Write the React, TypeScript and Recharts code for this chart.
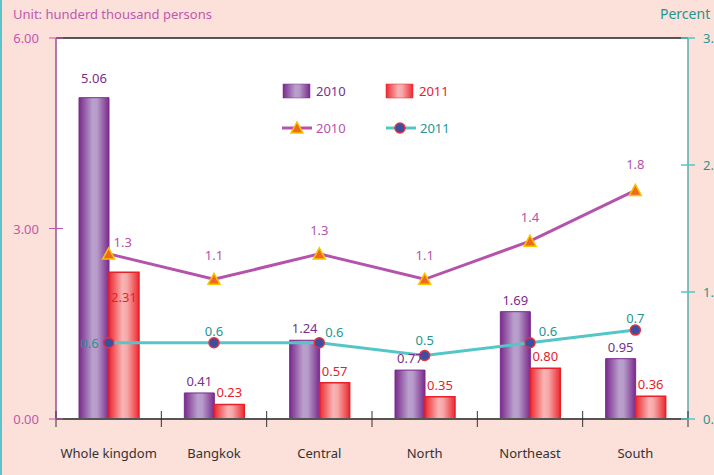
import React from 'react';
import { ComposedChart, Bar, Line, XAxis, YAxis, CartesianGrid, LabelList, ReferenceLine } from 'recharts';

const categories = ['Whole kingdom', 'Bangkok', 'Central', 'North', 'Northeast', 'South'];
const bars2010 = [5.06, 0.41, 1.24, 0.77, 1.69, 0.95];
const bars2011 = [2.31, 0.23, 0.57, 0.35, 0.8, 0.36];
const line2010 = [1.3, 1.1, 1.3, 1.1, 1.4, 1.8];
const line2011 = [0.6, 0.6, 0.6, 0.5, 0.6, 0.7];
const leftTicks = [0, 3, 6];
const rightTicks = [0, 1, 2, 3];
const seriesNames = ['2010', '2011'];
const unitText = 'Unit: hunderd thousand persons';
const rightUnitText = 'Percent';

const data = categories.map((c, i) => ({
  name: c,
  b2010: bars2010[i],
  b2011: bars2011[i],
  l2010: line2010[i],
  l2011: line2011[i],
}));

const FONT = "'Noto Sans', sans-serif";
const PURPLE = '#7B2D8E';
const RED = '#E8202A';
const LPURPLE = '#B552AC';
const TEAL = '#55C6C8';
const TEAL_TXT = '#24968F';
const PINK_TXT = '#C257AE';

// label placement styles (offsets in px)
const l2010Offsets = [[14, -12, 'middle'], [0, -24, 'middle'], [0, -24, 'middle'], [0, -24, 'middle'], [0, -24, 'middle'], [0, -26, 'middle']];
const l2011Offsets = [[-10, 0, 'end'], [0, -12, 'middle'], [15, -11, 'middle'], [0, -16, 'middle'], [18, -12, 'middle'], [0, -12, 'middle']];

const Triangle = (props: any) => {
  const { cx, cy } = props;
  if (cx == null || cy == null) return null;
  return <polygon points={`${cx},${cy - 6} ${cx - 6},${cy + 5} ${cx + 6},${cy + 5}`} fill="#F06A1E" stroke="#F7C400" strokeWidth={1.5} />;
};
const Circle = (props: any) => {
  const { cx, cy } = props;
  if (cx == null || cy == null) return null;
  return <circle cx={cx} cy={cy} r={5} fill="#3A4FA0" stroke="#E5303F" strokeWidth={1.5} />;
};

const barLabel = (color: string, insideFirst: boolean) => (p: any) => {
  const { x, y, width, value, index } = p;
  let ty = y - 7;
  if (index === 0) ty = insideFirst ? y + 30 : y - 15;
  return (
    <text x={x + width / 2} y={ty} textAnchor="middle" fill={color} fontSize={13} fontFamily={FONT}>
      {Number(value).toFixed(2)}
    </text>
  );
};

const lineLabel = (color: string, offsets: any[]) => (p: any) => {
  const { x, y, value, index } = p;
  const o = offsets[index] || [0, -12, 'middle'];
  return (
    <text x={x + o[0]} y={y + o[1] + 5} textAnchor={o[2]} fill={color} fontSize={13} fontFamily={FONT}>
      {value}
    </text>
  );
};

const XTick = (props: any) => {
  const { x, y, payload, index } = props;
  const half = payload && payload.offset ? payload.offset : 52.6;
  const axisY = y - 8;
  return (
    <g>
      <line x1={x - half} x2={x - half} y1={axisY - 8} y2={axisY + 8} stroke="#333" strokeWidth={1} />
      {index === categories.length - 1 && (
        <line x1={x + half} x2={x + half} y1={axisY - 8} y2={axisY + 8} stroke="#333" strokeWidth={1} />
      )}
      <text x={x} y={axisY + 39} textAnchor="middle" fill="#333" fontSize={13} fontFamily={FONT}>
        {payload.value}
      </text>
    </g>
  );
};

const LeftTick = (props: any) => {
  const { x, y, payload } = props;
  const ax = x + 8;
  return (
    <g>
      <line x1={ax - 7} x2={ax + 7} y1={y} y2={y} stroke={PINK_TXT} strokeWidth={1} />
      <text x={ax - 17} y={y + 5} textAnchor="end" fill={PINK_TXT} fontSize={13} fontFamily={FONT}>
        {Number(payload.value).toFixed(2)}
      </text>
    </g>
  );
};

const RightTick = (props: any) => {
  const { x, y, payload } = props;
  const ax = x - 8;
  return (
    <g>
      <line x1={ax - 7} x2={ax + 7} y1={y} y2={y} stroke={TEAL} strokeWidth={1.5} />
      <text x={ax + 15} y={y + 5} textAnchor="start" fill={TEAL_TXT} fontSize={13} fontFamily={FONT}>
        {Number(payload.value).toFixed(2)}
      </text>
    </g>
  );
};

const LegendBox = () => (
  <svg width={190} height={70} style={{ position: 'absolute', left: 280, top: 78, overflow: 'visible' }}>
    <rect x={3} y={6} width={27} height={14} fill="url(#gPurple)" stroke={PURPLE} strokeWidth={0.5} />
    <text x={36} y={18} fill={PURPLE} fontSize={13} fontFamily={FONT}>{seriesNames[0]}</text>
    <rect x={106} y={6} width={27} height={14} fill="url(#gRed)" stroke={RED} strokeWidth={0.5} />
    <text x={139} y={18} fill={RED} fontSize={13} fontFamily={FONT}>{seriesNames[1]}</text>
    <line x1={2} x2={32} y1={50} y2={50} stroke={LPURPLE} strokeWidth={3} />
    <polygon points="17,44 11,55 23,55" fill="#F06A1E" stroke="#F7C400" strokeWidth={1.5} />
    <text x={36} y={55} fill={LPURPLE} fontSize={13} fontFamily={FONT}>{seriesNames[0]}</text>
    <line x1={106} x2={136} y1={50} y2={50} stroke={TEAL} strokeWidth={3} />
    <circle cx={120} cy={50} r={5} fill="#3A4FA0" stroke="#E5303F" strokeWidth={1.5} />
    <text x={140} y={55} fill={TEAL_TXT} fontSize={13} fontFamily={FONT}>{seriesNames[1]}</text>
  </svg>
);

export default function App() {
  return (
    <div style={{ position: 'fixed', left: 0, top: 0, width: 714, height: 475, background: '#FCE0DA', overflow: 'hidden', fontFamily: FONT }}>
      <div style={{ position: 'absolute', left: 0, top: 0, width: 2, height: 475, background: '#5BC3C9' }} />
      <div style={{ position: 'absolute', left: 13, top: 5, fontSize: 13, color: PINK_TXT, fontFamily: FONT }}>{unitText}</div>
      <div style={{ position: 'absolute', left: 660, top: 4, fontSize: 14, color: TEAL_TXT, fontFamily: FONT, whiteSpace: 'nowrap' }}>{rightUnitText}</div>
      <div style={{ position: 'absolute', left: 0, top: 0 }}>
        <ComposedChart
          width={714}
          height={475}
          data={data}
          margin={{ top: 38, right: 0, bottom: 0, left: 0 }}
          barGap={0}
        >
          <defs>
            <linearGradient id="gPurple" x1="0" y1="0" x2="1" y2="0">
              <stop offset="0%" stopColor="#7A2A8C" />
              <stop offset="45%" stopColor="#B9A0CC" />
              <stop offset="60%" stopColor="#B79CCA" />
              <stop offset="100%" stopColor="#7A2A8C" />
            </linearGradient>
            <linearGradient id="gRed" x1="0" y1="0" x2="1" y2="0">
              <stop offset="0%" stopColor="#EC2A30" />
              <stop offset="45%" stopColor="#F8B4B4" />
              <stop offset="60%" stopColor="#F7A8A8" />
              <stop offset="100%" stopColor="#EC2A30" />
            </linearGradient>
          </defs>
          <CartesianGrid fill="#ffffff" horizontal={false} vertical={false} />
          <XAxis
            dataKey="name"
            height={56}
            axisLine={{ stroke: '#555', strokeWidth: 2 }}
            tickLine={false}
            tick={<XTick />}
            interval={0}
          />
          <YAxis
            yAxisId="left"
            orientation="left"
            width={56}
            domain={[0, 6]}
            ticks={leftTicks}
            axisLine={{ stroke: '#9B4F96', strokeWidth: 1.5 }}
            tickLine={false}
            tick={<LeftTick />}
          />
          <YAxis
            yAxisId="right"
            orientation="right"
            width={26}
            domain={[0, 3]}
            ticks={rightTicks}
            axisLine={{ stroke: '#5AABA9', strokeWidth: 1.5 }}
            tickLine={false}
            tick={<RightTick />}
          />
          <ReferenceLine yAxisId="left" y={6} stroke="#222" strokeWidth={1.5} />
          <Bar yAxisId="left" dataKey="b2010" barSize={30} fill="url(#gPurple)" stroke="#7A2A8C" strokeWidth={1} isAnimationActive={false}>
            <LabelList dataKey="b2010" content={barLabel(PURPLE, false)} />
          </Bar>
          <Bar yAxisId="left" dataKey="b2011" barSize={30} fill="url(#gRed)" stroke="#E8202A" strokeWidth={1.5} isAnimationActive={false}>
            <LabelList dataKey="b2011" content={barLabel(RED, true)} />
          </Bar>
          <Line yAxisId="right" dataKey="l2010" stroke={LPURPLE} strokeWidth={3} dot={<Triangle />} activeDot={false} isAnimationActive={false}>
            <LabelList dataKey="l2010" content={lineLabel(LPURPLE, l2010Offsets)} />
          </Line>
          <Line yAxisId="right" dataKey="l2011" stroke={TEAL} strokeWidth={3} dot={<Circle />} activeDot={false} isAnimationActive={false}>
            <LabelList dataKey="l2011" content={lineLabel(TEAL_TXT, l2011Offsets)} />
          </Line>
        </ComposedChart>
      </div>
      <LegendBox />
    </div>
  );
}
